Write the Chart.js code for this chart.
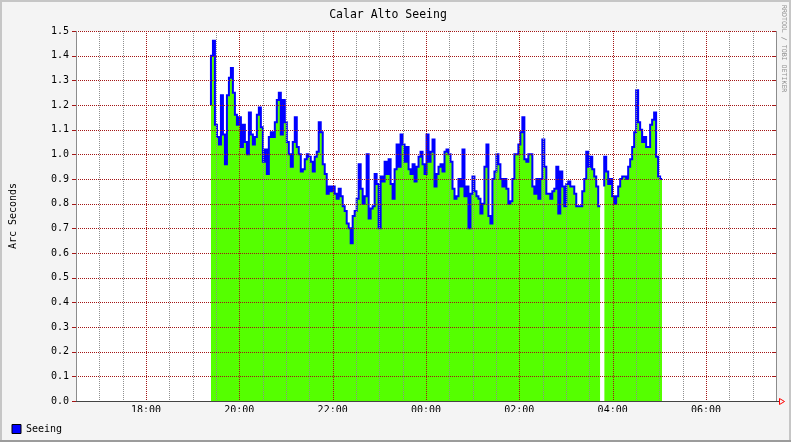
<!DOCTYPE html>
<html><head><meta charset="utf-8">
<script src="https://cdn.jsdelivr.net/npm/chart.js@4.4.1/dist/chart.umd.min.js"></script>
<style>html,body{margin:0;padding:0;background:#f4f4f4;} canvas{display:block;}</style>
</head><body>
<canvas id="c" width="791" height="442"></canvas>
<script>
// ---------- data ----------
const chartTitle = 'Calar Alto Seeing';
const yAxisTitle = 'Arc Seconds';
const seriesName = 'Seeing';
const windowStart = '16:30';
const windowEnd = '07:30';
const xTickLabels = ['18:00', '20:00', '22:00', '00:00', '02:00', '04:00', '06:00'];
const yTickValues = [0.0, 0.1, 0.2, 0.3, 0.4, 0.5, 0.6, 0.7, 0.8, 0.9, 1.0, 1.1, 1.2, 1.3, 1.4, 1.5];
const firstSample = '19:23:30';
const sampleSeconds = 154;
const seeing = [
  1.20,1.40,1.46,1.12,1.07,1.04,1.24,1.08,0.96,1.24,
  1.31,1.35,1.25,1.16,1.12,1.15,1.03,1.12,1.05,1.00,
  1.17,1.08,1.04,1.07,1.16,1.19,1.11,0.97,1.02,0.92,
  1.07,1.09,1.07,1.13,1.22,1.25,1.08,1.22,1.13,1.05,
  1.00,0.95,1.05,1.15,1.03,1.00,0.93,0.94,0.98,1.00,
  0.99,0.97,0.93,0.99,1.01,1.13,1.09,0.96,0.92,0.84,
  0.87,0.85,0.87,0.84,0.82,0.86,0.83,0.79,0.77,0.72,
  0.70,0.64,0.75,0.77,0.82,0.96,0.86,0.80,0.83,1.00,
  0.74,0.78,0.79,0.92,0.88,0.70,0.91,0.89,0.97,0.92,
  0.98,0.88,0.82,0.94,1.04,0.95,1.08,1.04,0.97,1.03,
  0.94,0.92,0.96,0.89,0.95,0.99,1.01,0.96,0.92,1.08,
  0.97,1.01,1.06,0.87,0.92,0.95,0.96,0.93,1.01,1.02,
  1.00,0.97,0.86,0.82,0.83,0.90,0.87,1.02,0.83,0.87,
  0.70,0.84,0.91,0.85,0.83,0.82,0.76,0.80,0.95,1.04,
  0.75,0.72,0.90,0.93,1.00,0.96,0.90,0.87,0.90,0.86,
  0.80,0.81,0.90,1.00,1.00,1.04,1.09,1.15,0.98,0.97,
  1.00,1.00,0.87,0.84,0.90,0.82,0.90,1.06,0.95,0.84,
  0.84,0.82,0.85,0.86,0.95,0.76,0.93,0.87,0.79,0.88,
  0.89,0.87,0.87,0.84,0.79,0.79,0.79,0.85,0.90,1.01,
  0.95,0.99,0.94,0.91,0.87,0.79,null,0.87,0.99,0.93,
  0.88,0.90,0.83,0.80,0.83,0.87,0.90,0.91,0.91,0.90,
  0.95,0.98,1.03,1.09,1.26,1.13,1.10,1.05,1.07,1.03,
  1.03,1.12,1.14,1.17,0.99,0.91,0.90
];

// ---------- helpers ----------
function toMin(s) { const p = s.split(':').map(Number); return p[0] * 60 + p[1] + (p[2] || 0) / 60; }
const startMin = toMin(windowStart);
function sinceStart(s) { return ((toMin(s) - startMin) % 1440 + 1440) % 1440; }
function fmt(m) { const t = Math.round(startMin + m) % 1440; const h = Math.floor(t / 60), mm = t % 60; return String(h).padStart(2, '0') + ':' + String(mm).padStart(2, '0'); }
const spanMin = sinceStart(windowEnd);
const t0 = sinceStart(firstSample);
const points = seeing.map((v, i) => ({ x: t0 + i * sampleSeconds / 60, y: v }));
const majorSet = new Set(xTickLabels.map(sinceStart));

const MONO = 'DejaVu Sans Mono';
const RED = '#a31515';
const GREY = '#8f8f8f';

function dotted(ctx, x1, y1, x2, y2, color) {
  ctx.save();
  ctx.strokeStyle = color; ctx.lineWidth = 1; ctx.setLineDash([1, 1]);
  ctx.beginPath(); ctx.moveTo(x1, y1); ctx.lineTo(x2, y2); ctx.stroke();
  ctx.restore();
}
function solid(ctx, x1, y1, x2, y2, color) {
  ctx.save();
  ctx.strokeStyle = color; ctx.lineWidth = 1; ctx.setLineDash([]);
  ctx.beginPath(); ctx.moveTo(x1, y1); ctx.lineTo(x2, y2); ctx.stroke();
  ctx.restore();
}

const framePlugin = {
  id: 'frame',
  beforeDraw(chart) {
    const { ctx, chartArea: a, width, height } = chart;
    ctx.save();
    ctx.fillStyle = '#f4f4f4'; ctx.fillRect(0, 0, width, height);
    ctx.fillStyle = '#c6c6c6';
    ctx.fillRect(0, 0, width, 2); ctx.fillRect(0, 0, 2, height); ctx.fillRect(width - 2, 0, 2, height);
    ctx.fillStyle = '#9c9c9c'; ctx.fillRect(0, height - 2, width, 2);
    ctx.fillStyle = '#ffffff'; ctx.fillRect(a.left, a.top, a.right - a.left, a.bottom - a.top);
    ctx.restore();
  },
  afterDatasetsDraw(chart) {
    const { ctx, chartArea: a, scales } = chart;
    const l = Math.round(a.left), r = Math.round(a.right);
    const L = l + 0.5, R = r + 0.5;
    const T = Math.round(a.top), B = Math.round(a.bottom);
    // vertical grid from the x scale ticks
    scales.x.ticks.forEach(t => {
      const x = Math.round(scales.x.getPixelForValue(t.value)) + 0.5;
      if (x <= L || x >= R) return;
      const major = majorSet.has(Math.round(t.value));
      dotted(ctx, x, T, x, B, major ? RED : GREY);
    });
    // horizontal grid + tick marks from the y scale ticks
    scales.y.ticks.forEach(t => {
      const y = Math.round(scales.y.getPixelForValue(t.value)) + 0.5;
      dotted(ctx, l, y, r, y, RED);
      solid(ctx, l - 4, y, l, y, RED);
      solid(ctx, r - 3, y, r, y, RED);
    });
    // axes
    solid(ctx, L, T, L, B + 1, '#8c8c8c');
    solid(ctx, R, T, R, B, '#8c8c8c');
    solid(ctx, l, B + 0.5, r + 4, B + 0.5, '#444444');
    ctx.save();
    ctx.strokeStyle = '#ff0000'; ctx.lineWidth = 1;
    ctx.beginPath(); ctx.moveTo(R + 3, B + 0.5 - 3); ctx.lineTo(R + 8, B + 0.5); ctx.lineTo(R + 3, B + 0.5 + 3); ctx.closePath(); ctx.stroke();
    ctx.restore();
  },
  afterDraw(chart) {
    const { ctx } = chart;
    ctx.save();
    ctx.translate(781, 5);
    ctx.rotate(Math.PI / 2);
    ctx.fillStyle = '#909090';
    ctx.font = '6.6px "' + MONO + '"';
    ctx.textBaseline = 'middle';
    ctx.textAlign = 'left';
    ctx.fillText('RRDTOOL / TOBI OETIKER', 0, -3);
    ctx.restore();
  }
};

Chart.defaults.font.family = MONO;
Chart.defaults.color = '#000';

new Chart(document.getElementById('c'), {
  type: 'line',
  data: {
    datasets: [{
      label: seriesName,
      data: points,
      stepped: 'after',
      borderColor: '#0000ff',
      borderWidth: 2,
      backgroundColor: '#55ff00',
      fill: 'origin',
      pointRadius: 0,
      tension: 0,
      spanGaps: false,
      borderJoinStyle: 'miter'
    }]
  },
  options: {
    responsive: false,
    animation: false,
    devicePixelRatio: 1,
    layout: { padding: { left: 0, right: 15, top: 0, bottom: 0 } },
    plugins: {
      title: { display: true, text: chartTitle, color: '#000', font: { family: MONO, size: 11.5, weight: 'normal' }, padding: { top: 8, bottom: 9.2 } },
      legend: {
        display: true, position: 'bottom', align: 'start', maxHeight: 30,
        labels: {
          padding: 12, boxWidth: 9, boxHeight: 9, font: { family: MONO, size: 10 }, color: '#000',
          generateLabels: () => [{ text: seriesName, fillStyle: '#0000ff', strokeStyle: '#000000', lineWidth: 1, hidden: false, datasetIndex: 0, fontColor: '#000' }]
        }
      },
      tooltip: { enabled: false }
    },
    scales: {
      x: {
        type: 'linear', min: 0, max: spanMin,
        afterFit: s => { s.height = 11; },
        border: { display: false },
        grid: { display: false, drawTicks: false },
        ticks: {
          stepSize: 30, autoSkip: false, maxRotation: 0, padding: 3.5,
          font: { family: MONO, size: 10 }, color: '#000',
          callback: v => majorSet.has(Math.round(v)) ? fmt(v) : ''
        }
      },
      y: {
        min: yTickValues[0], max: yTickValues[yTickValues.length - 1],
        afterFit: s => { s.width = 76; },
        afterBuildTicks: s => { s.ticks = yTickValues.map(v => ({ value: v })); },
        border: { display: false },
        grid: { display: false, drawTicks: false },
        ticks: { padding: 7, font: { family: MONO, size: 10 }, color: '#000', callback: v => Number(v).toFixed(1) },
        title: { display: true, text: yAxisTitle, color: '#000', font: { family: MONO, size: 10 }, padding: { top: 7, bottom: 0 } }
      }
    }
  },
  plugins: [framePlugin]
});
</script>
</body></html>
